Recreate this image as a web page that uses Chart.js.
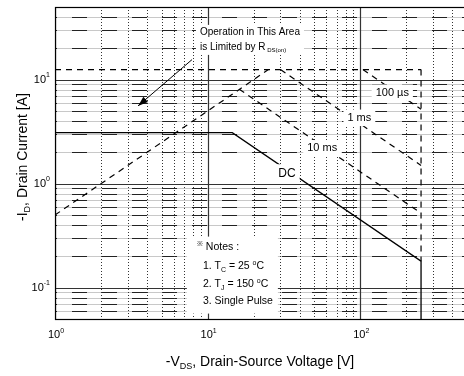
<!DOCTYPE html>
<html>
<head>
<meta charset="utf-8">
<script src="https://cdn.jsdelivr.net/npm/chart.js@4"></script>
<style>
html, body { margin: 0; padding: 0; background: #fff; overflow: hidden; }
#wrap { width: 467px; height: 376px; }
</style>
</head>
<body>
<div id="wrap"><canvas id="soaChart" width="467" height="376"></canvas></div>
<script>
// axis ranges and decade tick labels
var xMin = 1, xMax = 500;
var yMin = 0.05, yMax = 50;
var xMajor = [1, 10, 100];
var yMajor = [0.1, 1, 10];

// safe operating area, -VDS [V] against -ID [A]
var rdsV = [1, 25];            var rdsI = [0.5, 12.5];
var idmV = [1, 250];           var idmI = [12.5, 12.5];
var us100V = [104, 250];       var us100I = [12.5, 5.2];
var ms1V = [30, 250];          var ms1I = [12.5, 1.5];
var ms10V = [16.1, 250];       var ms10I = [8.1, 0.52];
var dcV = [1, 14.5, 250, 250]; var dcI = [3.1, 3.1, 0.18, 0.05];
var bvV = [250, 250];          var bvI = [12.5, 0.18];

var FONT = '"Liberation Sans", Arial, sans-serif';

function pts(xs, ys) {
    return xs.map(function (x, i) { return { x: x, y: ys[i] }; });
}

function dashed(xs, ys) {
    return { data: pts(xs, ys), borderColor: '#000', borderWidth: 1.2, borderDash: [6, 5] };
}

// every 1..9 x 10^n between lo and hi
function decadeValues(lo, hi) {
    var out = [];
    for (var n = Math.floor(Math.log10(lo)); n <= Math.floor(Math.log10(hi)); n++) {
        for (var k = 1; k <= 9; k++) {
            var v = k * Math.pow(10, n);
            if (v >= lo * 0.999 && v <= hi * 1.001) out.push(v);
        }
    }
    return out;
}

function isMajor(v) {
    var l = Math.log10(v);
    return Math.abs(l - Math.round(l)) < 1e-6;
}

// text pieces: [string, 'sub' | 'sup' | undefined]
function richWidth(ctx, parts, size) {
    var w = 0;
    parts.forEach(function (p) {
        ctx.font = (p[1] ? Math.round(size * 0.62) : size) + 'px ' + FONT;
        w += ctx.measureText(p[0]).width;
    });
    return w;
}

function drawRich(ctx, parts, x, y, size, align) {
    var w = richWidth(ctx, parts, size);
    var cx = align === 'center' ? x - w / 2 : (align === 'right' ? x - w : x);
    ctx.textBaseline = 'middle';
    ctx.textAlign = 'left';
    parts.forEach(function (p) {
        var dy = 0;
        if (p[1] === 'sub') dy = size * 0.33;
        if (p[1] === 'sup') dy = -size * 0.38;
        ctx.font = (p[1] ? Math.round(size * 0.62) : size) + 'px ' + FONT;
        ctx.fillText(p[0], cx, y + dy);
        cx += ctx.measureText(p[0]).width;
    });
    return w;
}

function hline(ctx, a, y) {
    ctx.beginPath(); ctx.moveTo(a.left, y); ctx.lineTo(a.right, y); ctx.stroke();
}
function vline(ctx, a, x) {
    ctx.beginPath(); ctx.moveTo(x, a.top); ctx.lineTo(x, a.bottom); ctx.stroke();
}

var gridPlugin = {
    id: 'soaGrid',
    beforeDatasetsDraw: function (chart) {
        var ctx = chart.ctx, a = chart.chartArea;
        var xs = chart.scales.x, ys = chart.scales.y;
        ctx.save();
        ctx.beginPath();
        ctx.rect(a.left, a.top, a.right - a.left, a.bottom - a.top);
        ctx.clip();
        ctx.lineWidth = 1;

        decadeValues(yMin, yMax).forEach(function (v) {
            if (isMajor(v)) return;
            var y = Math.round(ys.getPixelForValue(v)) + 0.5;
            ctx.setLineDash([]);
            ctx.strokeStyle = '#c8c8c8';
            hline(ctx, a, y);
            ctx.setLineDash([15, 15]);
            ctx.lineDashOffset = 13;
            ctx.strokeStyle = '#222';
            hline(ctx, a, y);
        });

        ctx.setLineDash([1, 2]);
        ctx.lineDashOffset = 0;
        ctx.strokeStyle = '#333';
        decadeValues(xMin, xMax).forEach(function (v) {
            if (isMajor(v)) return;
            vline(ctx, a, Math.round(xs.getPixelForValue(v)) + 0.5);
        });

        ctx.setLineDash([]);
        ctx.strokeStyle = '#333';
        ctx.lineWidth = 1.2;
        yMajor.forEach(function (v) { hline(ctx, a, Math.round(ys.getPixelForValue(v)) + 0.5); });
        xMajor.forEach(function (v) { vline(ctx, a, Math.round(xs.getPixelForValue(v)) + 0.5); });
        ctx.restore();

        ctx.save();
        ctx.strokeStyle = '#000';
        ctx.lineWidth = 1.2;
        ctx.strokeRect(a.left + 0.5, a.top + 0.5, a.right - a.left - 1, a.bottom - a.top);
        ctx.restore();
    }
};

function boxText(ctx, lines, x, y, size, align, gap) {
    // white box behind a block of lines, then the lines
    var w = 0;
    lines.forEach(function (l) { w = Math.max(w, richWidth(ctx, l, size)); });
    var left = align === 'center' ? x - w / 2 : x;
    ctx.fillStyle = '#fff';
    ctx.fillRect(left - 4, y - size * 0.75, w + 8, gap * (lines.length - 1) + size * 1.5);
    ctx.fillStyle = '#000';
    lines.forEach(function (l, i) { drawRich(ctx, l, x, y + i * gap, size, align); });
}

var labelPlugin = {
    id: 'soaLabels',
    afterDatasetsDraw: function (chart) {
        var ctx = chart.ctx;
        var xs = chart.scales.x, ys = chart.scales.y;
        function px(v) { return xs.getPixelForValue(v); }
        function py(v) { return ys.getPixelForValue(v); }
        ctx.save();

        // arrow toward the RDS(on) limited region
        var x0 = px(7.9), y0 = py(15.6), x1 = px(3.5), y1 = py(5.6);
        ctx.strokeStyle = '#000'; ctx.lineWidth = 1;
        ctx.beginPath(); ctx.moveTo(x0, y0); ctx.lineTo(x1, y1); ctx.stroke();
        var ang = Math.atan2(y1 - y0, x1 - x0);
        ctx.fillStyle = '#000';
        ctx.beginPath();
        ctx.moveTo(x1, y1);
        ctx.lineTo(x1 - 10 * Math.cos(ang) + 3.5 * Math.sin(ang), y1 - 10 * Math.sin(ang) - 3.5 * Math.cos(ang));
        ctx.lineTo(x1 - 10 * Math.cos(ang) - 3.5 * Math.sin(ang), y1 - 10 * Math.sin(ang) + 3.5 * Math.cos(ang));
        ctx.closePath(); ctx.fill();

        boxText(ctx, [[['Operation in This Area']], [['is Limited by R'], [' DS(on)', 'sub']]],
            px(8.9), py(28.5), 10, 'left', 15);
        boxText(ctx, [[['100 \u00b5s']]], px(162), py(7.5), 11, 'center', 0);
        boxText(ctx, [[['1 ms']]], px(98.6), py(4.3), 11, 'center', 0);
        boxText(ctx, [[['10 ms']]], px(56.3), py(2.19), 11, 'center', 0);
        boxText(ctx, [[['DC']]], px(33.1), py(1.26), 12, 'center', 0);

        // notes block
        var nx = px(8.5), ny = py(0.243);
        ctx.fillStyle = '#fff';
        ctx.fillRect(nx - 10, ny - 11, 91, 77);
        ctx.fillStyle = '#000';
        drawRich(ctx, [['\u203b', 'sup'], [' Notes :']], nx, ny, 10.5, 'left');
        drawRich(ctx, [['1. T'], ['C', 'sub'], [' = 25 '], ['o', 'sup'], ['C']], nx + 6, ny + 19, 10.5, 'left');
        drawRich(ctx, [['2. T'], ['J', 'sub'], [' = 150 '], ['o', 'sup'], ['C']], nx + 6, ny + 37, 10.5, 'left');
        drawRich(ctx, [['3. Single Pulse']], nx + 6, ny + 54, 10.5, 'left');
        ctx.restore();
    },
    afterDraw: function (chart) {
        var ctx = chart.ctx, a = chart.chartArea;
        var xs = chart.scales.x, ys = chart.scales.y;
        ctx.save();
        ctx.fillStyle = '#000';
        xMajor.forEach(function (v) {
            drawRich(ctx, [['10'], [String(Math.round(Math.log10(v))), 'sup']],
                xs.getPixelForValue(v) + 1, a.bottom + 16, 11, 'center');
        });
        yMajor.forEach(function (v) {
            drawRich(ctx, [['10'], [String(Math.round(Math.log10(v))), 'sup']],
                a.left - 5, ys.getPixelForValue(v), 11, 'right');
        });
        drawRich(ctx, [['-V'], ['DS', 'sub'], [', Drain-Source Voltage [V]']],
            260, a.bottom + 43, 14, 'center');
        ctx.translate(23, 157);
        ctx.rotate(-Math.PI / 2);
        drawRich(ctx, [['-I'], ['D', 'sub'], [', Drain Current [A]']], 0, 0, 14, 'center');
        ctx.restore();
    }
};

var logAxis = function (min, max, fit) {
    return {
        type: 'logarithmic', min: min, max: max,
        grid: { display: false }, border: { display: false },
        ticks: { display: false },
        afterFit: fit
    };
};

new Chart(document.getElementById('soaChart').getContext('2d'), {
    type: 'scatter',
    data: {
        datasets: [
            dashed(rdsV, rdsI),
            dashed(idmV, idmI),
            dashed(us100V, us100I),
            dashed(ms1V, ms1I),
            dashed(ms10V, ms10I),
            dashed(bvV, bvI),
            { data: pts(dcV, dcI), borderColor: '#000', borderWidth: 1.3 }
        ]
    },
    options: {
        responsive: false,
        animation: false,
        showLine: true,
        elements: { point: { radius: 0 }, line: { tension: 0 } },
        layout: { padding: { top: 7, left: 0, right: 0, bottom: 0 } },
        scales: {
            x: logAxis(xMin, xMax, function (s) { s.height = 57; }),
            y: logAxis(yMin, yMax, function (s) { s.width = 55; })
        },
        plugins: { legend: { display: false }, tooltip: { enabled: false } }
    },
    plugins: [gridPlugin, labelPlugin]
});
</script>
</body>
</html>
